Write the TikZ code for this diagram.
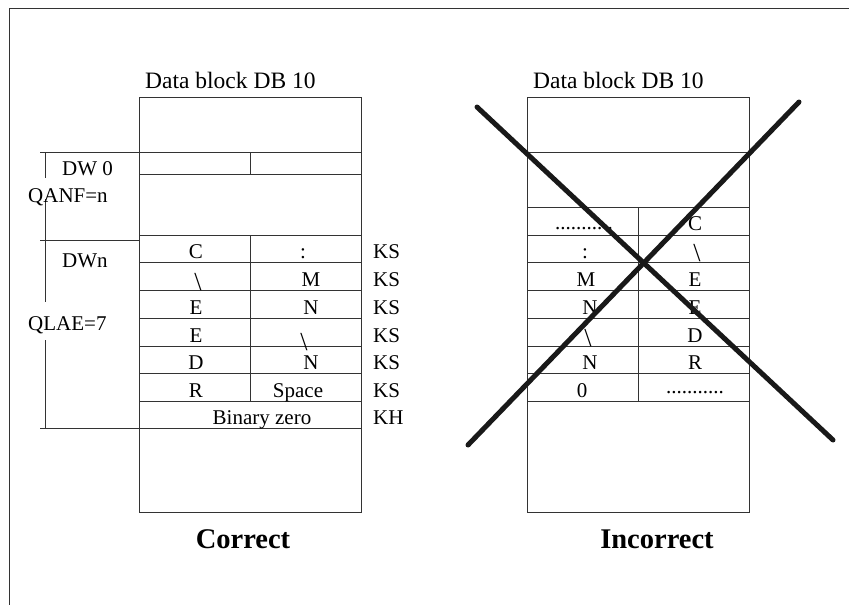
\documentclass[tikz,border=0pt]{standalone}
\usepackage{fontspec}
\setmainfont{Liberation Serif}
\usetikzlibrary{calc, positioning}

\tikzset{
  celltext/.style={anchor=base, inner sep=0pt, font=\fontsize{21}{21}\selectfont},
  bslash/.style={anchor=base, inner sep=0pt, font=\fontsize{26}{26}\selectfont},
  sidetext/.style={anchor=base west, inner sep=0pt, font=\fontsize{21}{21}\selectfont},
  blocktitle/.style={anchor=base west, inner sep=0pt, font=\fontsize{23.5}{23.5}\selectfont},
  verdict/.style={anchor=base, inner sep=0pt, font=\fontsize{28.5}{28.5}\selectfont\bfseries},
  grid/.style={line width=1pt, black!80},
  cross/.style={line width=5pt, line cap=round, black!90},
}

\begin{document}
\begin{tikzpicture}[x=1pt, y=-1pt]
\useasboundingbox (0,0) rectangle (849,605);

% frame
\draw[grid] (9,605) -- (9,8) -- (849,8);

% left data block
\coordinate (LT) at (139,97);
\coordinate (LB) at (361,512);
\draw[grid] (LT) rectangle (LB);
\draw[grid] (40,152) -- (361,152);
\draw[grid] (139,174) -- (361,174);
\draw[grid] (250,152) -- (250,174);
\foreach \y in {235,262,290,318,346,373,401}
  \draw[grid] (139,\y) -- (361,\y);
\draw[grid] (40,428) -- (361,428);
\draw[grid] (40,240) -- (139,240);
\draw[grid] (250,235) -- (250,401);

% bracket on the left
\draw[grid] (45,152) -- (45,178);
\draw[grid] (45,199) -- (45,302);
\draw[grid] (45,340) -- (45,428);

\node[sidetext] (dw0) at (62,175) {DW 0};
\node[sidetext] (qanf) at (28,202) {QANF=n};
\node[sidetext] (dwn) at (62,267) {DWn};
\node[sidetext] (qlae) at (28,330) {QLAE=7};

\node[blocktitle] (ltitle) at (145,88) {Data block DB 10};

% left rows
\node[celltext] (l1a) at (196,258) {C};
\node[celltext] (l1b) at (303,258) {:};
\node[bslash] (l2a) at (198,290) {\textbackslash};
\node[celltext] (l2b) at (311,286) {M};
\node[celltext] (l3a) at (196,314) {E};
\node[celltext] (l3b) at (311,314) {N};
\node[celltext] (l4a) at (196,342) {E};
\node[bslash] (l4b) at (304,350) {\textbackslash};
\node[celltext] (l5a) at (196,369) {D};
\node[celltext] (l5b) at (311,369) {N};
\node[celltext] (l6a) at (196,397) {R};
\node[celltext] (l6b) at (298,397) {Space};
\node[celltext] (l7) at (262,424) {Binary zero};

\foreach \y/\n in {258/1,286/2,314/3,342/4,369/5,397/6}
  \node[sidetext] (ks\n) at (373,\y) {KS};
\node[sidetext] (kh) at (373,424) {KH};

% right data block
\coordinate (RT) at (527,97);
\coordinate (RB) at (749,512);
\draw[grid] (RT) rectangle (RB);
\foreach \y in {152,207,235,262,290,318,346,373,401}
  \draw[grid] (527,\y) -- (749,\y);
\draw[grid] (638,207) -- (638,401);

\node[blocktitle] (rtitle) at (533,88) {Data block DB 10};

% right rows
\node[celltext] (r1a) at (584,229) {...........};
\node[celltext] (r1b) at (695,230) {C};
\node[celltext] (r2a) at (585,258) {:};
\node[bslash] (r2b) at (697,261) {\textbackslash};
\node[celltext] (r3a) at (586,286) {M};
\node[celltext] (r3b) at (695,286) {E};
\node[celltext] (r4a) at (590,314) {N};
\node[celltext] (r4b) at (695,314) {E};
\node[bslash] (r5a) at (588,346) {\textbackslash};
\node[celltext] (r5b) at (695,342) {D};
\node[celltext] (r6a) at (590,369) {N};
\node[celltext] (r6b) at (695,369) {R};
\node[celltext] (r7a) at (582,397) {0};
\node[celltext] (r7b) at (695,393) {...........};

% the cross
\coordinate (X1) at (477,107);
\coordinate (X2) at (833,440);
\coordinate (X3) at (799,102);
\coordinate (X4) at (468,445);
\draw[cross] (X1) -- (X2);
\draw[cross] (X3) -- (X4);

\node[verdict] (ok) at (243,548) {Correct};
\node[verdict] (bad) at (657,548) {Incorrect};
\end{tikzpicture}
\end{document}
